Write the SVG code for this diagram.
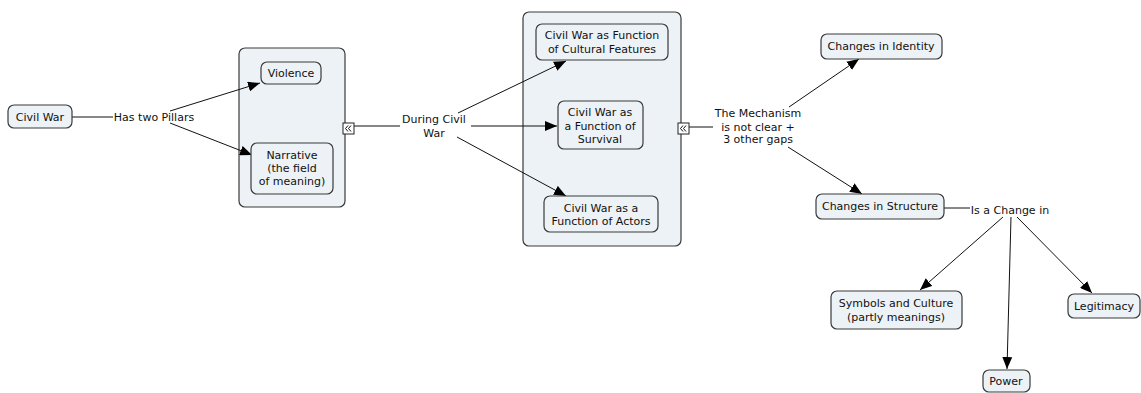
<svg xmlns="http://www.w3.org/2000/svg" width="1141" height="393" viewBox="0 0 1141 393">
  <style>
    .node rect { fill: #ecf2f5; stroke: #3a3a3a; stroke-width: 1.2; }
    .grp { fill: #ecf2f5; stroke: #3a3a3a; stroke-width: 1.2; }
    text { font-family: "DejaVu Sans", Verdana, sans-serif; font-size: 11px; fill: #111; text-anchor: middle; }
    .conn line { stroke: #111; stroke-width: 1; }
    .arrow { marker-end: url(#head); }
    .fold rect { fill: #fff; stroke: #222; stroke-width: 1; }
    .fold polyline { fill: none; stroke: #111; stroke-width: 1; }
  </style>
  <defs>
    <marker id="head" viewBox="0 0 12 10" refX="12" refY="5" markerWidth="12" markerHeight="10" markerUnits="userSpaceOnUse" orient="auto">
      <path d="M0,0 L12,5 L0,10 Z" fill="#000"/>
    </marker>
  </defs>

  <!-- container groups -->
  <g id="group-pillars">
    <rect class="grp" x="239" y="48" width="106" height="159" rx="6"/>
  </g>
  <g id="group-functions">
    <rect class="grp" x="523" y="12" width="158" height="234" rx="6"/>
  </g>

  <!-- connectors -->
  <g id="connectors" class="conn">
    <line x1="72" y1="117" x2="113" y2="117"/>
    <line class="arrow" x1="170" y1="111" x2="260" y2="83"/>
    <line class="arrow" x1="170" y1="123" x2="252" y2="155"/>

    <line x1="354" y1="126" x2="400" y2="126"/>
    <line class="arrow" x1="458" y1="113" x2="566" y2="61"/>
    <line class="arrow" x1="471" y1="126" x2="557" y2="126"/>
    <line class="arrow" x1="457" y1="137" x2="566" y2="196"/>

    <line x1="689" y1="127" x2="713" y2="127"/>
    <line class="arrow" x1="789" y1="107" x2="859" y2="59"/>
    <line class="arrow" x1="788" y1="147" x2="862" y2="194"/>

    <line x1="944" y1="208" x2="970" y2="208"/>
    <line class="arrow" x1="1003" y1="217" x2="920" y2="290"/>
    <line class="arrow" x1="1011" y1="217" x2="1007" y2="369"/>
    <line class="arrow" x1="1017" y1="217" x2="1092" y2="293"/>
  </g>

  <!-- collapse handles on the containers -->
  <g id="fold-pillars" class="fold">
    <rect x="343" y="123" width="11" height="11"/>
    <polyline points="348,125.5 345.5,128.5 348,131.5"/>
    <polyline points="351,125.5 348.5,128.5 351,131.5"/>
  </g>
  <g id="fold-functions" class="fold">
    <rect x="678" y="123" width="11" height="11"/>
    <polyline points="683,125.5 680.5,128.5 683,131.5"/>
    <polyline points="686,125.5 683.5,128.5 686,131.5"/>
  </g>

  <!-- concepts -->
  <g id="civil-war" class="node">
    <rect x="8" y="105" width="64" height="23" rx="6"/>
    <text x="40" y="121">Civil War</text>
  </g>
  <g id="has-two-pillars">
    <text x="154" y="121">Has two Pillars</text>
  </g>
  <g id="violence" class="node">
    <rect x="261" y="62" width="60" height="22" rx="6"/>
    <text x="291" y="77">Violence</text>
  </g>
  <g id="narrative" class="node">
    <rect x="251" y="143" width="82" height="51" rx="6"/>
    <text x="292" y="159">Narrative</text>
    <text x="292" y="172">(the field</text>
    <text x="292" y="185">of meaning)</text>
  </g>
  <g id="during-civil-war">
    <text x="434" y="123">During Civil</text>
    <text x="434" y="137">War</text>
  </g>
  <g id="cultural-features" class="node">
    <rect x="536" y="24" width="132" height="36" rx="6"/>
    <text x="602" y="39">Civil War as Function</text>
    <text x="602" y="53">of Cultural Features</text>
  </g>
  <g id="survival" class="node">
    <rect x="558" y="101" width="85" height="48" rx="6"/>
    <text x="600" y="116">Civil War as</text>
    <text x="600" y="130">a Function of</text>
    <text x="600" y="143">Survival</text>
  </g>
  <g id="actors" class="node">
    <rect x="544" y="196" width="114" height="36" rx="6"/>
    <text x="601" y="212">Civil War as a</text>
    <text x="601" y="225">Function of Actors</text>
  </g>
  <g id="mechanism">
    <text x="758" y="117">The Mechanism</text>
    <text x="758" y="131">is not clear +</text>
    <text x="758" y="143">3 other gaps</text>
  </g>
  <g id="changes-identity" class="node">
    <rect x="821" y="34" width="121" height="25" rx="6"/>
    <text x="881" y="50">Changes in Identity</text>
  </g>
  <g id="changes-structure" class="node">
    <rect x="816" y="194" width="128" height="25" rx="6"/>
    <text x="880" y="210">Changes in Structure</text>
  </g>
  <g id="is-a-change-in">
    <text x="1010" y="214">Is a Change in</text>
  </g>
  <g id="symbols-culture" class="node">
    <rect x="831" y="291" width="131" height="38" rx="6"/>
    <text x="896" y="307">Symbols and Culture</text>
    <text x="896" y="321">(partly meanings)</text>
  </g>
  <g id="legitimacy" class="node">
    <rect x="1068" y="294" width="72" height="24" rx="6"/>
    <text x="1104" y="310">Legitimacy</text>
  </g>
  <g id="power" class="node">
    <rect x="983" y="370" width="47" height="22" rx="6"/>
    <text x="1006" y="385">Power</text>
  </g>
</svg>
